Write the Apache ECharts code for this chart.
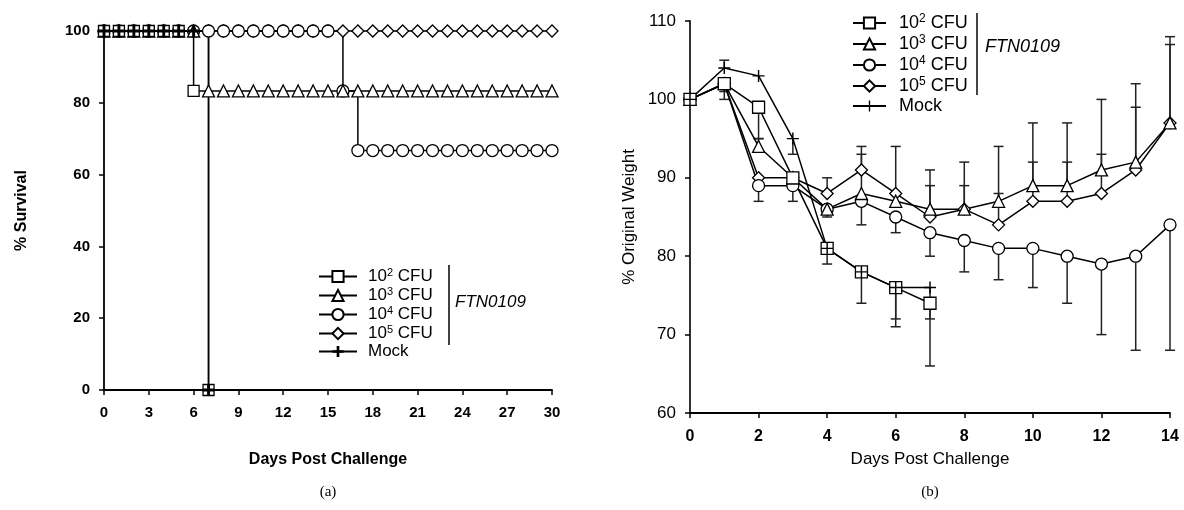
<!DOCTYPE html>
<html>
<head>
<meta charset="utf-8">
<script src="https://cdn.jsdelivr.net/npm/echarts@6/dist/echarts.min.js"></script>
<style>html,body{margin:0;padding:0;background:#fff;}</style>
</head>
<body>
<div id="container" style="width:1184px;height:510px;"></div>
<script>
  var FONT = 'Liberation Sans, Arial, sans-serif';

  // groups (legend order)
  var groupNames = ['10^2 CFU', '10^3 CFU', '10^4 CFU', '10^5 CFU', 'Mock'];

  // (a) survival, one point per day
  var survDays = [0, 1, 2, 3, 4, 5, 6, 7, 8, 9, 10, 11, 12, 13, 14, 15, 16, 17, 18, 19, 20, 21, 22, 23, 24, 25, 26, 27, 28, 29, 30];
  var survSq = [100, 100, 100, 100, 100, 100, 83.3, 0];
  var survTri = [100, 100, 100, 100, 100, 100, 100, 83.3, 83.3, 83.3, 83.3, 83.3, 83.3, 83.3, 83.3, 83.3,
    83.3, 83.3, 83.3, 83.3, 83.3, 83.3, 83.3, 83.3, 83.3, 83.3, 83.3, 83.3, 83.3, 83.3, 83.3];
  var survCir = [100, 100, 100, 100, 100, 100, 100, 100, 100, 100, 100, 100, 100, 100, 100, 100,
    83.3, 66.7, 66.7, 66.7, 66.7, 66.7, 66.7, 66.7, 66.7, 66.7, 66.7, 66.7, 66.7, 66.7, 66.7];
  var survDia = [100, 100, 100, 100, 100, 100, 100, 100, 100, 100, 100, 100, 100, 100, 100, 100,
    100, 100, 100, 100, 100, 100, 100, 100, 100, 100, 100, 100, 100, 100, 100];
  var survMock = [100, 100, 100, 100, 100, 100, 100, 0];

  // (b) weight, % of original
  var wtDays = [0, 1, 2, 3, 4, 5, 6, 7, 8, 9, 10, 11, 12, 13, 14];
  var wtSq = [100, 102, 99, 90, 81, 78, 76, 74];
  var wtTri = [100, 102, 94, 90, 86, 88, 87, 86, 86, 87, 89, 89, 91, 92, 97];
  var wtCir = [100, 102, 89, 89, 86, 87, 85, 83, 82, 81, 81, 80, 79, 80, 84];
  var wtDia = [100, 102, 90, 90, 88, 91, 88, 85, 86, 84, 87, 87, 88, 91, 97];
  var wtMock = [100, 104, 103, 95, 81, 78, 76, 76];

  // one-sided error bars (+ up, - down)
  var errSq = [0, -2, -4, -1, -2, -4, -5, -8];
  var errTri = [0, 0, 1, 0, 0, 5, 1, 3, 6, 7, 8, 8, 9, 10, 11];
  var errCir = [0, -1, -2, -2, -1, -3, -2, -3, -4, -4, -5, -6, -9, -12, -16];
  var errDia = [0, 0, 0, 0, 2, 3, 6, 6, 3, 4, 5, 5, 5, 8, 10];
  var errMock = [0, 1, 0, -2, 0, 0, -4, -4];

  var boldPlus = 'path://M3.8,0H6.2V3.8H10V6.2H6.2V10H3.8V6.2H0V3.8H3.8Z';
  var thinPlus = 'path://M4.4,0H5.6V4.4H10V5.6H5.6V10H4.4V5.6H0V4.4H4.4Z';

  function mkLine(name, symbol, size, days, vals, gi, step) {
    var plus = symbol.indexOf('path://') === 0;
    return {
      type: 'line', name: name, xAxisIndex: gi, yAxisIndex: gi,
      data: vals.map(function (v, i) { return [days[i], v]; }),
      step: step, symbol: symbol, symbolSize: size, clip: false,
      lineStyle: {color: '#000', width: 1.5},
      itemStyle: plus ? {color: '#000', borderWidth: 0} : {color: '#fff', borderColor: '#000', borderWidth: 1.3}
    };
  }

  function errData(days, vals, errs) {
    var out = [];
    errs.forEach(function (e, i) {
      if (e !== 0) out.push([days[i], vals[i], vals[i] + e]);
    });
    return out;
  }

  var errAll = [].concat(
    errData(wtDays, wtSq, errSq), errData(wtDays, wtTri, errTri),
    errData(wtDays, wtCir, errCir), errData(wtDays, wtDia, errDia),
    errData(wtDays, wtMock, errMock));

  function legendFmt(name) {
    name = name.replace('#b', '');
    var m = name.match(/^10\^(\d) CFU$/);
    return m ? '{n|10}{s|' + m[1] + '}{n| CFU}' : '{n|' + name + '}';
  }

  function legendRich(fs, ss) {
    return {
      n: {fontSize: fs, lineHeight: 19, fontFamily: FONT, color: '#000'},
      s: {fontSize: ss, lineHeight: ss, padding: [0, 0, 8, 0], fontFamily: FONT, color: '#000'}
    };
  }

  var myChart = echarts.init(document.getElementById('container'));

  var axisLine = {show: true, lineStyle: {color: '#000', width: 1.8}};
  var axisTick = {show: true, length: 5, lineStyle: {color: '#000', width: 1.5}};

  myChart.setOption({
    animation: false,
    backgroundColor: '#fff',
    grid: [
      {left: 104, top: 31, width: 448, height: 359},
      {left: 690, top: 21, width: 480, height: 392}
    ],
    legend: [
      {
        orient: 'vertical', left: 313, top: 262, itemWidth: 38, itemHeight: 14, itemGap: 0,
        data: groupNames, formatter: legendFmt,
        textStyle: {color: '#000', fontSize: 17, fontFamily: FONT, padding: [0, 0, 0, 6], rich: legendRich(17, 11)}
      },
      {
        orient: 'vertical', left: 847, top: 8, itemWidth: 33, itemHeight: 14, itemGap: 1,
        data: groupNames.map(function (n) { return n + '#b'; }), formatter: legendFmt,
        textStyle: {color: '#000', fontSize: 18, fontFamily: FONT, padding: [0, 0, 0, 8], rich: legendRich(18, 12)}
      }
    ],
    xAxis: [
      {
        gridIndex: 0, type: 'value', min: 0, max: 30, interval: 3,
        axisLine: axisLine, axisTick: axisTick, splitLine: {show: false},
        axisLabel: {color: '#000', fontWeight: 'bold', fontSize: 15, fontFamily: FONT, margin: 15},
        name: 'Days Post Challenge', nameLocation: 'middle', nameGap: 62,
        nameTextStyle: {color: '#000', fontWeight: 'bold', fontSize: 16, fontFamily: FONT}
      },
      {
        gridIndex: 1, type: 'value', min: 0, max: 14, interval: 2,
        axisLine: axisLine, axisTick: axisTick, splitLine: {show: false},
        axisLabel: {color: '#000', fontWeight: 'bold', fontSize: 16, fontFamily: FONT, margin: 16},
        name: 'Days Post Challenge', nameLocation: 'middle', nameGap: 38,
        nameTextStyle: {color: '#000', fontSize: 17, fontFamily: FONT}
      }
    ],
    yAxis: [
      {
        gridIndex: 0, type: 'value', min: 0, max: 100, interval: 20,
        axisLine: axisLine, axisTick: axisTick, splitLine: {show: false},
        axisLabel: {color: '#000', fontWeight: 'bold', fontSize: 15, fontFamily: FONT, margin: 14},
        name: '% Survival', nameLocation: 'middle', nameGap: 74, nameRotate: 90,
        nameTextStyle: {color: '#000', fontWeight: 'bold', fontSize: 16, fontFamily: FONT}
      },
      {
        gridIndex: 1, type: 'value', min: 60, max: 110, interval: 10,
        axisLine: {show: true, lineStyle: {color: '#333', width: 2}}, axisTick: axisTick, splitLine: {show: false},
        axisLabel: {color: '#000', fontSize: 17, fontFamily: FONT, margin: 14},
        name: '% Original Weight', nameLocation: 'middle', nameGap: 52, nameRotate: 90,
        nameTextStyle: {color: '#000', fontSize: 17, fontFamily: FONT}
      }
    ],
    graphic: [
      {type: 'line', shape: {x1: 449, y1: 265, x2: 449, y2: 345}, style: {stroke: '#000', lineWidth: 1.5}},
      {type: 'text', x: 455, y: 302, style: {text: 'FTN0109', font: 'italic 17px ' + FONT, fill: '#000', verticalAlign: 'middle'}},
      {type: 'line', shape: {x1: 977, y1: 13, x2: 977, y2: 95}, style: {stroke: '#444', lineWidth: 2}},
      {type: 'text', x: 985, y: 47, style: {text: 'FTN0109', font: 'italic 18px ' + FONT, fill: '#000', verticalAlign: 'middle'}},
      {type: 'text', x: 328, y: 492, style: {text: '(a)', font: '15px Liberation Serif, Times New Roman, serif', fill: '#000', align: 'center', verticalAlign: 'middle'}},
      {type: 'text', x: 930, y: 492, style: {text: '(b)', font: '15px Liberation Serif, Times New Roman, serif', fill: '#000', align: 'center', verticalAlign: 'middle'}}
    ],
    series: [
      // (a)
      mkLine(groupNames[3], 'diamond', 12, survDays, survDia, 0, 'end'),
      mkLine(groupNames[2], 'circle', 12, survDays, survCir, 0, 'end'),
      mkLine(groupNames[1], 'triangle', 12, survDays, survTri, 0, 'end'),
      mkLine(groupNames[0], 'rect', 11, survDays, survSq, 0, 'end'),
      mkLine(groupNames[4], boldPlus, 12, survDays, survMock, 0, 'end'),
      // (b) error bars
      {
        type: 'custom', xAxisIndex: 1, yAxisIndex: 1, data: errAll, z: 1, clip: false,
        encode: {x: 0, y: [1, 2]},
        renderItem: function (params, api) {
          var p0 = api.coord([api.value(0), api.value(1)]);
          var p1 = api.coord([api.value(0), api.value(2)]);
          var st = {stroke: '#222', lineWidth: 1.5};
          return {
            type: 'group', children: [
              {type: 'line', shape: {x1: p0[0], y1: p0[1], x2: p1[0], y2: p1[1]}, style: st},
              {type: 'line', shape: {x1: p1[0] - 5, y1: p1[1], x2: p1[0] + 5, y2: p1[1]}, style: st}
            ]
          };
        }
      },
      mkLine(groupNames[3] + '#b', 'diamond', 12, wtDays, wtDia, 1),
      mkLine(groupNames[2] + '#b', 'circle', 12, wtDays, wtCir, 1),
      mkLine(groupNames[1] + '#b', 'triangle', 12, wtDays, wtTri, 1),
      mkLine(groupNames[0] + '#b', 'rect', 12, wtDays, wtSq, 1),
      mkLine(groupNames[4] + '#b', thinPlus, 12, wtDays, wtMock, 1)
    ]
  });
</script>
</body>
</html>
